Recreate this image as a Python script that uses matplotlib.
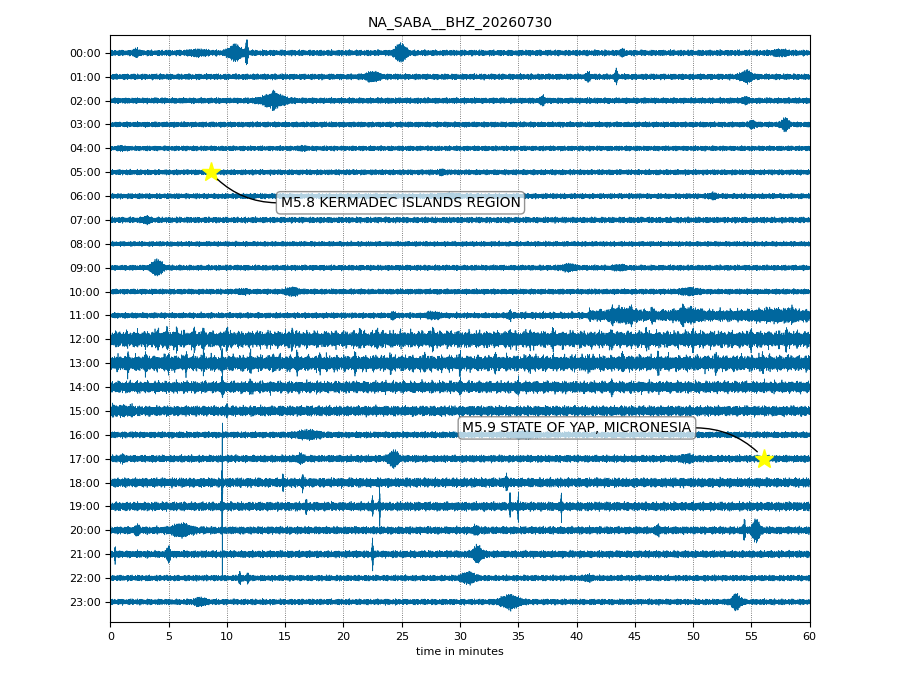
import numpy as np
import matplotlib
matplotlib.use("Agg")
import matplotlib.pyplot as plt

# station / day
title = "NA_SABA__BHZ_20260730"
hours = ["%02d:00" % h for h in range(24)]

# background noise level of every hourly line (fraction of line spacing)
base_amp = [0.13, 0.13, 0.13, 0.12, 0.11, 0.12, 0.12, 0.13, 0.11, 0.12,
            0.12, 0.14, 0.42, 0.40, 0.30, 0.23, 0.14, 0.16, 0.21, 0.20,
            0.17, 0.16, 0.13, 0.13]

# noisier stretches inside a line: (hour, start min, end min, level)
sections = [(11, 34, 41, 0.17), (11, 41, 60, 0.30), (15, 0, 2, 0.30)]

# visible bursts / spikes: (hour, minute, extra amplitude, half width in min)
events = [
    (0, 2.2, 0.15, 0.2), (0, 7.5, 0.08, 0.8), (0, 10.7, 0.30, 0.6), (0, 11.7, 0.60, 0.1),
    (0, 24.9, 0.35, 0.5), (0, 43.9, 0.10, 0.2), (0, 57.5, 0.08, 0.6),
    (1, 22.5, 0.15, 0.6), (1, 41.0, 0.15, 0.2), (1, 43.4, 0.30, 0.1), (1, 54.6, 0.20, 0.5),
    (2, 14.0, 0.25, 1.0), (2, 14.0, 0.20, 0.1), (2, 37.1, 0.15, 0.2), (2, 54.5, 0.12, 0.2),
    (3, 55.1, 0.12, 0.3), (3, 57.9, 0.25, 0.3),
    (4, 1.0, 0.05, 0.3), (4, 16.5, 0.05, 0.3),
    (5, 28.5, 0.08, 0.2),
    (6, 29.0, 0.05, 1.0), (6, 51.7, 0.08, 0.3),
    (7, 3.1, 0.10, 0.3),
    (9, 4.0, 0.30, 0.5), (9, 39.3, 0.10, 0.6), (9, 43.7, 0.06, 0.5),
    (10, 11.4, 0.06, 0.4), (10, 15.6, 0.12, 0.6), (10, 49.7, 0.10, 0.8),
    (11, 24.3, 0.12, 0.2), (11, 27.7, 0.10, 0.6), (11, 34.3, 0.20, 0.1),
    (11, 43.1, 0.25, 0.1), (11, 44.0, 0.15, 1.0), (11, 44.7, 0.25, 0.1), (11, 46.5, 0.22, 0.1),
    (11, 49.1, 0.25, 0.1), (11, 49.6, 0.15, 1.0), (11, 57.0, 0.10, 2.0), (11, 58.5, 0.25, 0.1),
    (12, 4.1, 0.35, 0.08), (12, 4.9, 0.35, 0.08), (12, 5.7, 0.35, 0.08), (12, 7.2, 0.35, 0.08),
    (12, 8.0, 0.35, 0.08), (12, 10.0, 0.45, 0.08), (12, 15.6, 0.35, 0.08), (12, 21.4, 0.35, 0.08),
    (12, 22.9, 0.35, 0.08), (12, 27.7, 0.35, 0.08), (12, 34.3, 0.30, 0.08), (12, 36.0, 0.25, 0.08),
    (12, 38.0, 0.25, 0.08), (12, 43.0, 0.25, 0.08), (12, 46.0, 0.25, 0.08), (12, 50.0, 0.25, 0.08),
    (12, 55.0, 0.25, 0.08), (12, 58.0, 0.25, 0.08),
    (13, 1.5, 0.25, 0.08), (13, 3.0, 0.25, 0.08), (13, 5.0, 0.25, 0.08), (13, 6.5, 0.25, 0.08),
    (13, 8.0, 0.25, 0.08), (13, 9.6, 0.35, 0.05), (13, 12.0, 0.25, 0.08), (13, 14.0, 0.25, 0.08),
    (13, 16.0, 0.25, 0.08), (13, 18.0, 0.25, 0.08), (13, 21.0, 0.25, 0.08), (13, 24.0, 0.25, 0.08),
    (13, 27.0, 0.25, 0.08), (13, 30.0, 0.25, 0.08), (13, 33.0, 0.25, 0.08), (13, 36.0, 0.25, 0.08),
    (13, 41.0, 0.25, 0.08), (13, 44.0, 0.25, 0.08), (13, 47.0, 0.25, 0.08), (13, 52.0, 0.25, 0.08),
    (13, 56.0, 0.25, 0.08),
    (14, 9.6, 0.50, 0.05), (14, 12.0, 0.20, 0.08), (14, 30.0, 0.20, 0.08), (14, 35.0, 0.20, 0.08),
    (14, 43.0, 0.20, 0.08),
    (15, 10.0, 0.30, 0.05),
    (16, 17.0, 0.12, 1.0), (16, 35.5, 0.08, 1.0),
    (17, 1.0, 0.10, 0.2), (17, 16.3, 0.12, 0.3), (17, 24.3, 0.30, 0.4), (17, 49.5, 0.10, 0.5),
    (18, 9.6, 0.60, 0.05), (18, 14.8, 0.30, 0.05), (18, 16.5, 0.30, 0.05), (18, 34.0, 0.30, 0.1),
    (19, 9.6, 5.00, 0.02), (19, 16.8, 0.30, 0.05), (19, 22.5, 0.40, 0.05), (19, 23.1, 1.30, 0.03),
    (19, 34.3, 0.70, 0.04), (19, 35.0, 0.80, 0.03), (19, 38.7, 0.80, 0.03),
    (20, 2.3, 0.15, 0.2), (20, 6.1, 0.20, 0.8), (20, 31.4, 0.10, 0.3), (20, 47.0, 0.15, 0.2),
    (20, 54.4, 0.40, 0.1), (20, 55.4, 0.45, 0.3),
    (21, 0.4, 0.35, 0.05), (21, 5.0, 0.30, 0.15), (21, 22.5, 0.80, 0.05), (21, 31.5, 0.30, 0.4),
    (22, 11.1, 0.25, 0.1), (22, 11.8, 0.20, 0.1), (22, 30.7, 0.20, 0.6), (22, 41.0, 0.08, 0.3),
    (23, 7.7, 0.12, 0.5), (23, 34.3, 0.25, 0.8), (23, 53.7, 0.30, 0.4),
]

# catalogue quakes: (label, minute, hour, text minute, text hour)
quakes = [
    ("M5.8 KERMADEC ISLANDS REGION", 8.6, 5, 14.6, 6.28),
    ("M5.9 STATE OF YAP, MICRONESIA", 56.1, 17, 30.2, 15.71),
]

trace_color = "#00679e"

fig = plt.figure(figsize=(9.2, 6.9), dpi=100)
ax = fig.add_axes([0.12, 0.0986, 0.76, 0.8507])

sec = np.arange(0, 3600, 0.25)
minutes = sec / 60.0
carrier = (0.55 * np.sin(2 * np.pi * 1.37 * sec)
           + 0.30 * np.sin(2 * np.pi * 0.83 * sec + 1.0)
           + 0.15 * np.sin(2 * np.pi * 0.211 * sec + 2.0))
# slow wobble of the noise level so the band edges are ragged
wobble = np.sqrt(np.abs(np.sin(2 * np.pi * sec / 11.3)
                        * np.sin(2 * np.pi * sec / 37.1 + 0.4)
                        * np.sin(2 * np.pi * sec / 97.7 + 1.1)))

for h in range(24):
    env = np.full_like(minutes, base_amp[h])
    for hh, m0, m1, lev in sections:
        if hh == h:
            env[(minutes >= m0) & (minutes < m1)] = lev
    shift = np.roll(wobble, 997 * h)
    env = env * (0.6 + 0.6 * shift ** (2 if h in (11, 12, 13, 14) else 1))
    for hh, m, a, w in events:
        if hh == h:
            env += a * np.exp(-((minutes - m) / w) ** 2)
    ax.plot(minutes, h + env * carrier, color=trace_color, lw=0.5, zorder=2)

for label, xm, hr, tx, ty in quakes:
    ax.plot(xm, hr, "*", color="yellow", ms=14, zorder=5)
    right = tx > xm
    ax.annotate(label, xy=(xm, hr), xytext=(tx, ty),
                ha="left", va="center", fontsize=10, zorder=6,
                bbox=dict(boxstyle="round", fc="white", ec="0.4", alpha=0.7),
                arrowprops=dict(arrowstyle="-", color="k", lw=1,
                                relpos=(0, 0.5) if right else (1, 0.5),
                                connectionstyle="arc3,rad=-0.23",
                                shrinkA=0, shrinkB=7))

ax.set_xlim(0, 60)
ax.set_ylim(23.84, -0.75)
ax.set_xticks(range(0, 61, 5))
ax.set_yticks(range(24))
ax.set_yticklabels(hours)
ax.tick_params(labelsize=8)
ax.xaxis.grid(True, linestyle=":", color="0.35", lw=0.6)
ax.set_axisbelow(True)
ax.set_xlabel("time in minutes", fontsize=8)
ax.set_title(title, fontsize=10)

fig.savefig("out.png", dpi=100)
